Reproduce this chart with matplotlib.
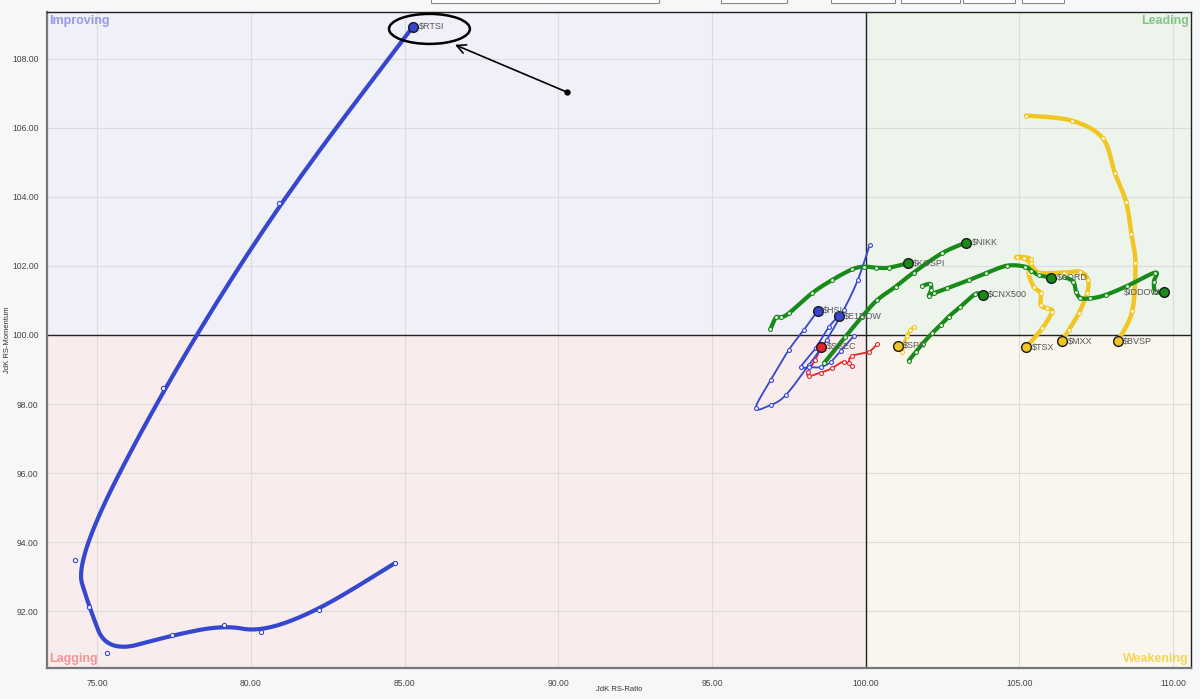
import numpy as np
import matplotlib
matplotlib.use("Agg")
import matplotlib.pyplot as plt
from matplotlib.patches import Rectangle, Ellipse

plt.rcParams['font.family'] = ['Liberation Sans', 'DejaVu Sans']

# -----------------------------
# Tails (JdK RS-Ratio, JdK RS-Momentum), oldest point first
rtsi_x = [84.69, 82.22, 80.33, 79.13, 77.44, 75.33, 74.74, 74.28, 77.15, 80.92, 85.27]
rtsi_y = [93.39, 92.03, 91.39, 91.59, 91.30, 90.78, 92.12, 93.48, 98.46, 103.83, 108.93]

hsi_x = [100.13, 99.74, 99.28, 98.73, 98.15, 97.40, 96.91, 96.42, 96.91, 97.50, 97.98, 98.44]
hsi_y = [102.61, 101.59, 100.72, 99.86, 99.13, 98.26, 97.97, 97.88, 98.70, 99.57, 100.14, 100.70]

e1dow_x = [99.61, 99.20, 98.86, 98.54, 98.15, 97.89, 98.37, 98.80, 99.12]
e1dow_y = [99.97, 99.55, 99.22, 99.07, 99.07, 99.07, 99.62, 100.23, 100.55]

ssec_x = [100.36, 100.10, 99.55, 99.45, 99.55, 99.28, 98.90, 98.53, 98.15, 98.12, 98.36, 98.55]
ssec_y = [99.73, 99.52, 99.39, 99.18, 99.10, 99.23, 99.03, 98.91, 98.81, 98.94, 99.28, 99.66]

kospi_x = [96.90, 97.08, 97.23, 97.50, 98.25, 98.90, 99.55, 99.93, 100.34, 100.75, 101.37]
kospi_y = [100.17, 100.51, 100.51, 100.63, 101.21, 101.59, 101.90, 101.98, 101.95, 101.95, 102.08]

nikk_x = [98.64, 99.34, 99.88, 100.37, 100.97, 101.56, 102.48, 103.26]
nikk_y = [99.18, 99.95, 100.53, 101.01, 101.40, 101.81, 102.37, 102.68]

cnx_x = [101.40, 101.62, 101.85, 102.16, 102.45, 102.70, 103.08, 103.57, 103.80]
cnx_y = [99.26, 99.50, 99.75, 100.05, 100.30, 100.53, 100.82, 101.19, 101.16]

aord_x = [101.83, 102.10, 102.12, 102.05, 102.21, 102.64, 103.35, 103.91, 104.60, 105.19, 105.39, 105.63, 106.03]
aord_y = [101.42, 101.48, 101.30, 101.13, 101.21, 101.35, 101.59, 101.79, 102.01, 101.98, 101.86, 101.74, 101.66]

iddow_x = [106.45, 106.75, 106.84, 106.98, 107.31, 107.80, 108.50, 109.42, 109.37, 109.42, 109.69]
iddow_y = [101.68, 101.55, 101.26, 101.08, 101.06, 101.16, 101.42, 101.81, 101.54, 101.26, 101.24]

bvsp_x = [105.21, 106.71, 107.71, 108.10, 108.47, 108.64, 108.77, 108.67, 108.20]
bvsp_y = [106.36, 106.21, 105.70, 104.70, 103.85, 102.93, 102.10, 100.70, 99.82]

mxx_x = [104.89, 105.14, 105.36, 105.63, 106.44, 106.98, 107.23, 107.20, 106.93, 106.60, 106.39]
mxx_y = [102.25, 102.22, 102.08, 101.81, 101.81, 101.83, 101.59, 101.21, 100.63, 100.14, 99.82]

tsx_x = [104.92, 105.36, 105.30, 105.46, 105.69, 105.69, 105.90, 106.06, 105.74, 105.21]
tsx_y = [102.27, 102.19, 101.79, 101.40, 101.21, 100.87, 100.77, 100.68, 100.19, 99.64]

spx_x = [101.58, 101.45, 101.34, 101.24, 101.18, 101.04]
spx_y = [100.24, 100.14, 99.97, 99.76, 99.52, 99.69]

x_ticks = [75, 80, 85, 90, 95, 100, 105, 110]
y_ticks = [92, 94, 96, 98, 100, 102, 104, 106, 108]

BLUE = "#3546cf"
GREEN = "#178a17"
YELLOW = "#f2c622"
RED = "#e5252a"


def chaikin(x, y, n=4):
    pts = np.column_stack([x, y]).astype(float)
    for _ in range(n):
        q = 0.75 * pts[:-1] + 0.25 * pts[1:]
        r = 0.25 * pts[:-1] + 0.75 * pts[1:]
        mid = np.empty((2 * len(q), 2))
        mid[0::2] = q
        mid[1::2] = r
        pts = np.vstack([pts[:1], mid[1:-1], pts[-1:]])
    return pts[:, 0], pts[:, 1]


def catmull(x, y, k=16):
    p = np.column_stack([x, y]).astype(float)
    p = np.vstack([p[0], p, p[-1]])
    out = []
    t = np.linspace(0, 1, k, endpoint=False)[:, None]
    for i in range(1, len(p) - 2):
        p0, p1, p2, p3 = p[i - 1], p[i], p[i + 1], p[i + 2]
        seg = 0.5 * ((2 * p1) + (-p0 + p2) * t + (2 * p0 - 5 * p1 + 4 * p2 - p3) * t ** 2
                     + (-p0 + 3 * p1 - 3 * p2 + p3) * t ** 3)
        out.append(seg)
    out.append(p[-2][None, :])
    out = np.vstack(out)
    return out[:, 0], out[:, 1]


fig = plt.figure(figsize=(12, 6.99), dpi=100, facecolor="#f6f7f9")
ax = fig.add_axes([47 / 1200, 31 / 699, 1144 / 1200, 656 / 699])

xmin, xmax = 73.37, 110.58
ymin, ymax = 90.35, 109.36
ax.set_xlim(xmin, xmax)
ax.set_ylim(ymin, ymax)

# quadrants
ax.add_patch(Rectangle((xmin, 100), 100 - xmin, ymax - 100, color="#eff0f8", zorder=0))
ax.add_patch(Rectangle((100, 100), xmax - 100, ymax - 100, color="#edf4ec", zorder=0))
ax.add_patch(Rectangle((xmin, ymin), 100 - xmin, 100 - ymin, color="#f9ecec", zorder=0))
ax.add_patch(Rectangle((100, ymin), xmax - 100, 100 - ymin, color="#f9f6ee", zorder=0))

ax.set_xticks(x_ticks)
ax.set_yticks(y_ticks)
ax.set_xticklabels([f"{v:.2f}" for v in x_ticks])
ax.set_yticklabels([f"{v:.2f}" for v in y_ticks])
ax.tick_params(length=0, labelsize=6.2, labelcolor="#444444")
ax.tick_params(axis="y", pad=6)
ax.tick_params(axis="x", pad=8)
ax.grid(True, color="#dcdcdc", lw=0.8, zorder=1)
ax.set_axisbelow(True)

ax.axvline(100, color="#222222", lw=1.0, zorder=2)
ax.axhline(100, color="#222222", lw=1.0, zorder=2)

for s in ["top", "right"]:
    ax.spines[s].set_color("#222222")
    ax.spines[s].set_linewidth(1.0)
for s in ["left", "bottom"]:
    ax.spines[s].set_color("#777777")
    ax.spines[s].set_linewidth(1.6)

ax.set_xlabel("JdK RS-Ratio", fontsize=5.5, color="#333333")
ax.xaxis.set_label_coords(0.5, -0.033)
ax.xaxis.label.set_verticalalignment("center")
ax.set_ylabel("JdK RS-Momentum", fontsize=5.5, color="#333333")
ax.yaxis.set_label_coords(-0.0345, 0.5)
ax.yaxis.label.set_verticalalignment("center")

# quadrant names
ax.text(0.002, 0.995, "Improving", transform=ax.transAxes, ha="left", va="top",
        fontsize=9, fontweight="bold", color="#949be2")
ax.text(0.998, 0.995, "Leading", transform=ax.transAxes, ha="right", va="top",
        fontsize=9, fontweight="bold", color="#84c484")
ax.text(0.002, 0.005, "Lagging", transform=ax.transAxes, ha="left", va="bottom",
        fontsize=9, fontweight="bold", color="#f19595")
ax.text(0.998, 0.005, "Weakening", transform=ax.transAxes, ha="right", va="bottom",
        fontsize=9, fontweight="bold", color="#f4d45a")


def draw_tail(x, y, color, lw, name, smooth=catmull, label_side="right", ms=2.8, z=3):
    sx, sy = smooth(x, y)
    ax.plot(sx, sy, color=color, lw=lw, solid_capstyle="round", zorder=z)
    ax.plot(x[:-1], y[:-1], "o", ms=ms, mfc="white", mec=color, mew=0.8, zorder=z + 0.1)
    ax.plot(x[-1], y[-1], "o", ms=7, mfc=color, mec="#1a1a1a", mew=1.0, zorder=z + 0.2)
    if label_side == "right":
        ax.annotate(name, (x[-1], y[-1]), xytext=(4, 0), textcoords="offset points",
                    ha="left", va="center", fontsize=6.5, color="#555555", zorder=10)
    else:
        ax.annotate(name, (x[-1], y[-1]), xytext=(-3, 0), textcoords="offset points",
                    ha="right", va="center", fontsize=6.5, color="#555555", zorder=10)


draw_tail(bvsp_x, bvsp_y, YELLOW, 3.2, "$BVSP")
draw_tail(mxx_x, mxx_y, YELLOW, 3.2, "$MXX")
draw_tail(tsx_x, tsx_y, YELLOW, 3.2, "$TSX")
draw_tail(spx_x, spx_y, YELLOW, 2.2, "$SPX")
draw_tail(aord_x, aord_y, GREEN, 3.0, "$AORD")
draw_tail(iddow_x, iddow_y, GREEN, 3.0, "$IDDOW", label_side="left")
draw_tail(cnx_x, cnx_y, GREEN, 3.0, "$CNX500")
draw_tail(nikk_x, nikk_y, GREEN, 3.0, "$NIKK")
draw_tail(kospi_x, kospi_y, GREEN, 3.0, "$KOSPI")
draw_tail(ssec_x, ssec_y, RED, 1.3, "$SSEC")
draw_tail(hsi_x, hsi_y, BLUE, 1.3, "$HSI")
draw_tail(e1dow_x, e1dow_y, BLUE, 1.3, "$E1DOW")
draw_tail(rtsi_x, rtsi_y, BLUE, 3.0, "$RTSI", smooth=chaikin, ms=3)

# hand-drawn highlight around $RTSI
ax.add_patch(Ellipse((85.81, 108.87), 2.63, 0.87, fill=False, ec="black", lw=1.8, zorder=11))
ax.annotate("", xy=(86.64, 108.41), xytext=(90.28, 107.04),
            arrowprops=dict(arrowstyle="->", lw=1.2, color="black", mutation_scale=16,
                            shrinkA=0, shrinkB=0), zorder=11)
ax.plot(90.28, 107.04, "o", color="black", ms=3.5, zorder=11)

# bits of the toolbar that peek in at the top
for x0, x1 in [(431, 659), (721, 787), (831, 895), (901, 960), (963, 1015), (1022, 1064)]:
    fig.patches.append(Rectangle((x0 / 1200, 696 / 699), (x1 - x0) / 1200, 0.02,
                                 transform=fig.transFigure, fc="white", ec="#888888",
                                 lw=0.8, figure=fig))

fig.savefig("out.png", dpi=100, facecolor=fig.get_facecolor())
